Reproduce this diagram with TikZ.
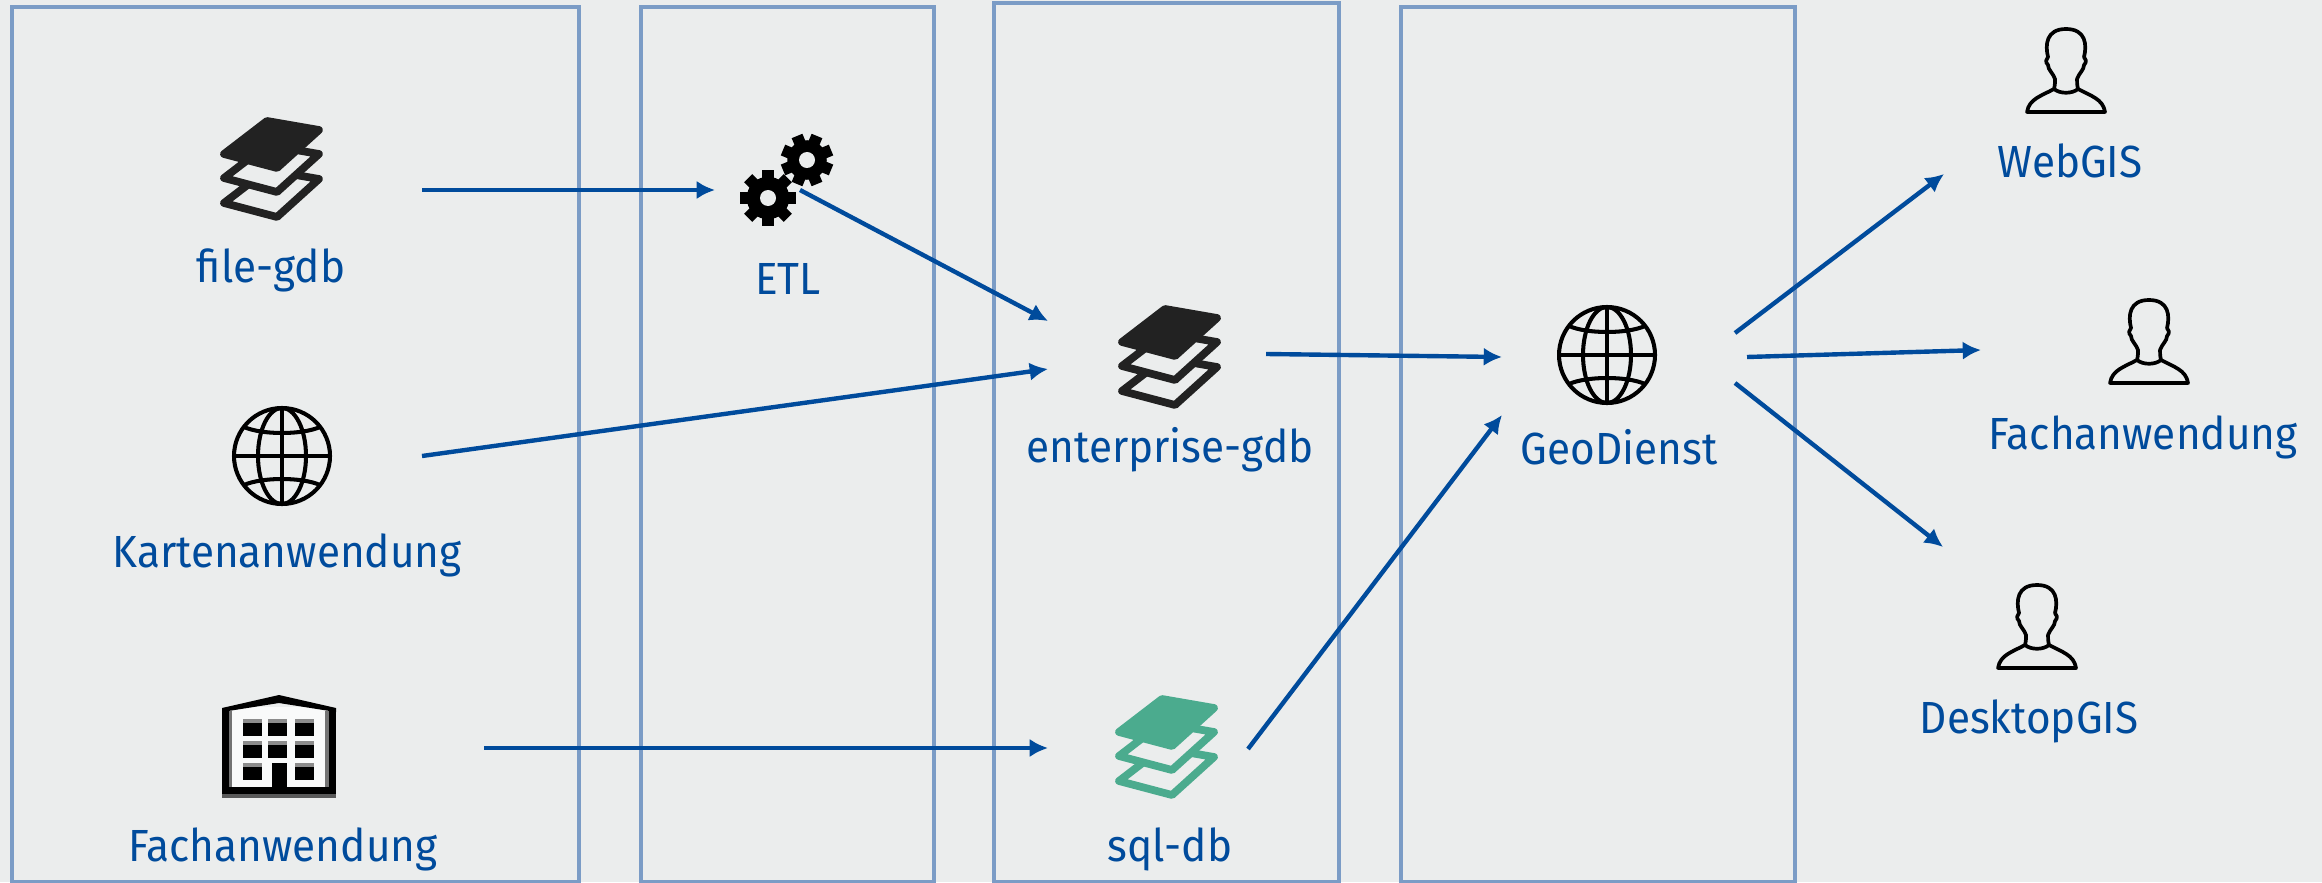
\documentclass[tikz,border=0pt]{standalone}
\usepackage{fontspec}
\setmainfont[FakeStretch=0.94]{Fira Sans}
\usetikzlibrary{arrows.meta}
\definecolor{paper}{HTML}{EBEDED}
\definecolor{panelblue}{HTML}{7B9CC6}
\definecolor{flowblue}{HTML}{004B9C}
\definecolor{dbgreen}{HTML}{4BAB8E}
\definecolor{dbblack}{HTML}{222222}
\tikzset{
	panel/.style={draw=panelblue, line width=1.4pt},
	flow/.style={draw=flowblue, line width=1.25pt, -{Latex[length=5.2pt,width=5.2pt]}},
	lbl/.style={text=flowblue, font=\fontsize{12.8}{15}\selectfont, inner sep=0pt, anchor=base}
}
\def\layericon(#1)#2{
	\begin{scope}[shift={(#1)}, line width=2.2pt, line join=round]
		\draw[draw=#2, fill=paper] (-48,34) -- (5,48) -- (47,10) -- (-5,1) -- cycle;
		\draw[draw=#2, fill=paper] (-48,9) -- (5,23) -- (47,-15) -- (-5,-24) -- cycle;
		\draw[draw=#2, fill=#2] (-48,-15) -- (5,-1) -- (47,-39) -- (-5,-48) -- cycle;
	\end{scope}
}
\def\globeicon(#1){
	\begin{scope}[shift={(#1)}, line width=1.15pt]
		\draw (0,0) circle (48);
		\draw (0,0) ellipse (24 and 48);
		\draw (0,-48) -- (0,48);
		\draw (-48,0) -- (48,0);
		\draw (-38,-29) .. controls (-20,-21) and (20,-21) .. (38,-29);
		\draw (-38,29) .. controls (-20,21) and (20,21) .. (38,29);
	\end{scope}
}
\def\gearicon(#1)(#2:#3){
	\begin{scope}[shift={(#1)}, rotate=#3]
		\fill (0,0) circle (#2*0.76);
		\foreach \a in {0,45,...,315}
			\fill[rotate=\a] (-5.8,-#2) rectangle (5.8,0);
		\fill[paper] (0,0) circle (8);
	\end{scope}
}
\def\personicon(#1){
	\begin{scope}[shift={(#1)}, line width=1.05pt, line join=round]
		\draw (-39,-1) .. controls (-37,-14) and (-25,-17) .. (-12,-24)
			.. controls (-11,-28) and (-11,-31) .. (-11,-34)
			.. controls (-13,-40) and (-18,-43) .. (-18,-48)
			.. controls (-21,-51) and (-20,-54) .. (-18,-56)
			.. controls (-21,-68) and (-20,-84) .. (0,-84)
			.. controls (20,-84) and (21,-68) .. (18,-56)
			.. controls (20,-54) and (21,-51) .. (18,-48)
			.. controls (18,-43) and (13,-40) .. (11,-34)
			.. controls (11,-31) and (11,-28) .. (12,-24)
			.. controls (25,-17) and (37,-14) .. (39,-1) -- cycle;
		\draw (-12,-24) .. controls (-6,-19) and (6,-19) .. (12,-24);
	\end{scope}
}
\def\buildingicon(#1){
	\begin{scope}[shift={(#1)}]
		\fill[white!70!paper] (-50,-42) rectangle (50,40);
		\fill (-57,-40) rectangle (-50,45);
		\fill (50,-40) rectangle (57,45);
		\fill (-57,38) rectangle (57,45);
		\fill[black!65] (-57,45) rectangle (57,49);
		\fill[black!55] (-50,-38) rectangle (-47,38);
		\fill[black!55] (46,-38) rectangle (50,38);
		\fill (-57,-41) -- (0,-54) -- (57,-41) -- (57,-37) -- (0,-46) -- (-57,-37) -- cycle;
		\foreach \x in {-36,-11,16}
			\foreach \y in {-30,-8,14}
			{
				\fill[black!45] (\x,\y) rectangle ++(19,4);
				\fill (\x,\y+4) rectangle ++(19,13);
			}
		\fill[white!70!paper] (-11,14) rectangle ++(19,17);
		\fill (-7,14) rectangle (8,38);
	\end{scope}
}

\begin{document}
\begin{tikzpicture}[x=0.01cm, y=-0.01cm]
	%%%%% START %%%%%
	\useasboundingbox (0, 0) rectangle (2322, 882);
	\fill[paper] (0, 0) rectangle (2322, 882);

	\draw[panel] (12, 7) rectangle (579, 882);
	\draw[panel] (641, 7) rectangle (934, 882);
	\draw[panel] (994, 3) rectangle (1339, 882);
	\draw[panel] (1401, 7) rectangle (1795, 882);

	\layericon(272, 169){dbblack}
	\layericon(1170, 357){dbblack}
	\layericon(1167, 747){dbgreen}
	\globeicon(282, 456)
	\globeicon(1607, 355)
	\gearicon(768, 198)(28:0)
	\gearicon(807, 160)(26:22.5)
	\buildingicon(279, 749)
	\personicon(2066, 113)
	\personicon(2149, 384)
	\personicon(2037, 669)

	\node[lbl] (filegdb) at (271, 282) {file-gdb};
	\node[lbl] (karte) at (287, 567) {Kartenanwendung};
	\node[lbl] (fachalt) at (283, 861) {Fachanwendung};
	\node[lbl] (etl) at (788, 294) {ETL};
	\node[lbl] (enterprise) at (1170, 462) {enterprise-gdb};
	\node[lbl] (sqldb) at (1170, 861) {sql-db};
	\node[lbl] (geodienst) at (1619, 464) {GeoDienst};
	\node[lbl] (webgis) at (2070, 178) {WebGIS};
	\node[lbl] (fach) at (2143, 449) {Fachanwendung};
	\node[lbl] (desktop) at (2029, 733) {DesktopGIS};

	\coordinate (filegdbout) at (422, 190);
	\coordinate (etlin) at (715, 190);
	\coordinate (etlout) at (800, 190);
	\coordinate (enterpriseintop) at (1048, 321);
	\coordinate (karteout) at (422, 456);
	\coordinate (enterpriseinlow) at (1048, 369);
	\coordinate (fachaltout) at (484, 748);
	\coordinate (sqldbin) at (1048, 748);
	\coordinate (enterpriseout) at (1266, 354);
	\coordinate (geointop) at (1502, 357);
	\coordinate (sqldbout) at (1248, 749);
	\coordinate (geoinlow) at (1502, 415);
	\coordinate (geoouta) at (1735, 333);
	\coordinate (geooutb) at (1747, 357);
	\coordinate (geooutc) at (1735, 383);
	\coordinate (webgisin) at (1944, 174);
	\coordinate (fachin) at (1981, 350);
	\coordinate (desktopin) at (1943, 547);

	\draw[flow] (filegdbout) -- (etlin);
	\draw[flow] (etlout) -- (enterpriseintop);
	\draw[flow] (karteout) -- (enterpriseinlow);
	\draw[flow] (fachaltout) -- (sqldbin);
	\draw[flow] (enterpriseout) -- (geointop);
	\draw[flow] (sqldbout) -- (geoinlow);
	\draw[flow] (geoouta) -- (webgisin);
	\draw[flow] (geooutb) -- (fachin);
	\draw[flow] (geooutc) -- (desktopin);
	%%%%% END %%%%%
\end{tikzpicture}
\end{document}
